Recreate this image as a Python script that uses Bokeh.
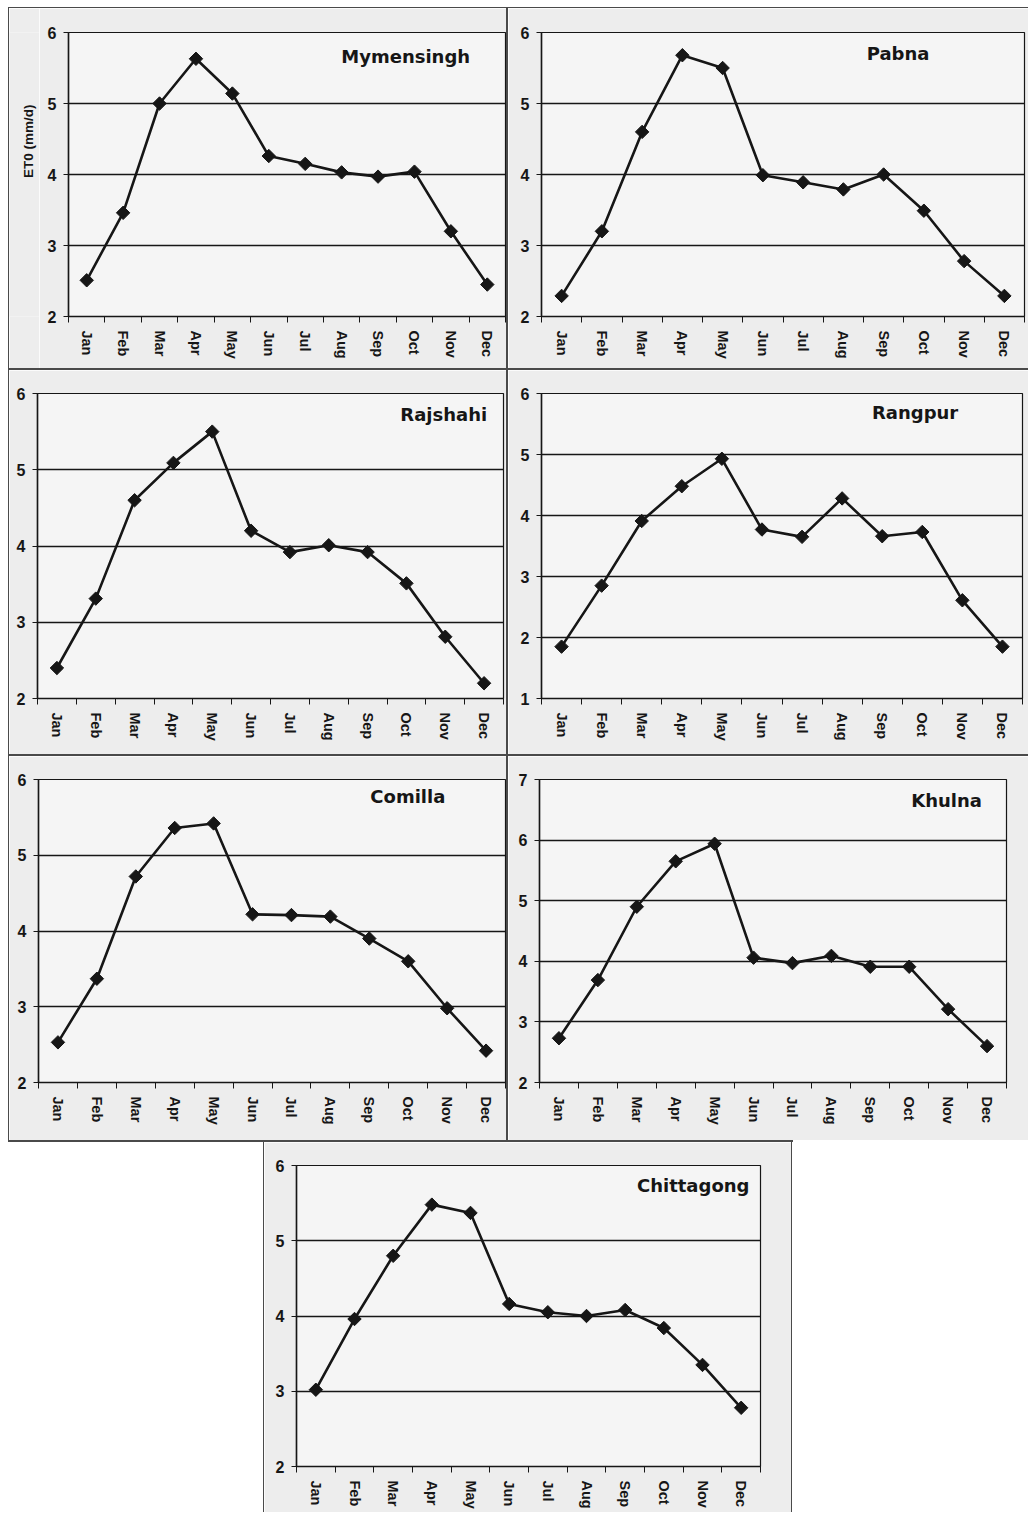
import math
from bokeh.plotting import figure
from bokeh.layouts import column, row
from bokeh.models import FixedTicker, Range1d, Label, Spacer
from bokeh.core.properties import value
from bokeh.embed import file_html
from bokeh.resources import INLINE

months = ["Jan", "Feb", "Mar", "Apr", "May", "Jun", "Jul", "Aug", "Sep", "Oct", "Nov", "Dec"]
month_idx = list(range(1, 13))

mymensingh = [2.51, 3.46, 5.00, 5.63, 5.14, 4.26, 4.15, 4.03, 3.97, 4.04, 3.20, 2.45]
pabna = [2.29, 3.20, 4.60, 5.68, 5.50, 3.99, 3.89, 3.79, 4.00, 3.49, 2.78, 2.29]
rajshahi = [2.40, 3.31, 4.60, 5.09, 5.50, 4.20, 3.92, 4.01, 3.92, 3.51, 2.81, 2.20]
rangpur = [1.85, 2.85, 3.91, 4.48, 4.93, 3.77, 3.65, 4.28, 3.66, 3.73, 2.61, 1.85]
comilla = [2.53, 3.37, 4.72, 5.36, 5.42, 4.22, 4.21, 4.19, 3.90, 3.60, 2.98, 2.42]
khulna = [2.73, 3.69, 4.90, 5.65, 5.94, 4.06, 3.97, 4.09, 3.91, 3.91, 3.21, 2.60]
chittagong = [3.02, 3.96, 4.80, 5.48, 5.37, 4.16, 4.05, 4.00, 4.08, 3.84, 3.35, 2.78]

y_axis_title = "ET0 (mm/d)"

FONT = "Liberation Sans"
TITLE_FONT = "DejaVu Sans"
INK = "#161616"
LINE = "#4a4a4a"
PAPER = "#ededed"


def panel(name, vals, ymin, ymax, w, h, bl, br, bt, bb, lx, ly):
    p = figure(width=w, height=h, output_backend="svg", toolbar_location=None,
               x_range=Range1d(0.5, 12.5), y_range=Range1d(ymin, ymax),
               min_border_left=bl, min_border_right=br,
               min_border_top=bt, min_border_bottom=bb)
    p.border_fill_color = PAPER
    p.background_fill_color = "#f5f5f5"
    p.outline_line_color = INK
    p.outline_line_width = 1.2

    yt = list(range(ymin, ymax + 1))
    p.yaxis.ticker = FixedTicker(ticks=yt)
    p.ygrid.ticker = FixedTicker(ticks=yt)
    p.ygrid.grid_line_color = INK
    p.ygrid.grid_line_width = 1.6
    p.xgrid.visible = False

    p.xaxis.ticker = FixedTicker(ticks=month_idx,
                                 minor_ticks=[i + 0.5 for i in range(0, 13)])
    p.xaxis.major_label_overrides = {i: m for i, m in zip(month_idx, months)}
    p.xaxis.major_label_orientation = "vertical"
    p.xaxis.major_tick_out = 0
    p.xaxis.major_tick_in = 0
    p.xaxis.minor_tick_out = 6
    p.xaxis.minor_tick_in = 0
    p.xaxis.minor_tick_line_color = INK
    p.xaxis.major_label_standoff = 8

    p.yaxis.major_tick_out = 5
    p.yaxis.major_tick_in = 0
    p.yaxis.minor_tick_out = 0
    p.yaxis.minor_tick_in = 0
    p.yaxis.major_label_standoff = 7

    for ax in (p.xaxis, p.yaxis):
        ax.axis_line_color = INK
        ax.axis_line_width = 1.5
        ax.major_tick_line_color = INK
        ax.major_label_text_font = FONT
        ax.major_label_text_font_style = "bold"
        ax.major_label_text_color = INK
    p.xaxis.major_label_text_font_size = "14.5px"
    p.yaxis.major_label_text_font_size = "16px"

    p.line(month_idx, vals, line_color=INK, line_width=2.6)
    p.scatter(month_idx, vals, marker="square", angle=math.pi / 4, size=9.5,
              fill_color=INK, line_color=INK)

    p.add_layout(Label(x=lx, y=ly, text=name, text_font=TITLE_FONT,
                       text_font_style="bold", text_font_size="18px",
                       text_color=INK, text_align="center",
                       text_baseline="middle"))
    return p


def axis_title_strip(w, h):
    # narrow strip holding the vertical y-axis title of the first panel
    s = figure(width=w, height=h, output_backend="svg", toolbar_location=None,
               x_range=Range1d(0, w), y_range=Range1d(0, h),
               x_axis_type=None, y_axis_type=None,
               min_border=0, min_border_left=0, min_border_right=0,
               min_border_top=0, min_border_bottom=0)
    s.border_fill_color = PAPER
    s.background_fill_color = PAPER
    s.outline_line_color = None
    s.grid.visible = False
    s.text(x=[19], y=[222], text=[y_axis_title], angle=math.pi / 2,
           text_font=value(FONT), text_font_style="bold",
           text_font_size="13.5px", text_color=INK,
           text_align="center", text_baseline="middle")
    return s


def vline(h, w=2):
    return Spacer(width=w, height=h, styles={"background-color": LINE})


def hline(w, h=2):
    return Spacer(width=w, height=h, styles={"background-color": LINE})


strip = axis_title_strip(30, 360)
p1 = panel("Mymensingh", mymensingh, 2, 6, 467, 360, 29, 1, 24, 50, 9.76, 5.66)
p2 = panel("Pabna", pabna, 2, 6, 520, 360, 33, 4, 22, 52, 9.36, 5.70)
p3 = panel("Rajshahi", rajshahi, 2, 6, 497, 384, 28, 3, 23, 54, 10.96, 5.73)
p4 = panel("Rangpur", rangpur, 1, 6, 520, 384, 33, 6, 23, 56, 9.82, 5.69)
p5 = panel("Comilla", comilla, 2, 6, 497, 384, 29, 1, 23, 56, 9.99, 5.77)
p6 = panel("Khulna", khulna, 2, 7, 520, 384, 31, 22, 23, 58, 10.96, 6.66)
p7 = panel("Chittagong", chittagong, 2, 6, 527, 370, 32, 31, 23, 46, 10.76, 5.73)

r1 = row(vline(360, 1), strip, p1, vline(360), p2)
r2 = row(vline(384, 1), p3, vline(384), p4)
r3 = row(vline(384, 1), p5, vline(384), p6)
r4 = row(Spacer(width=255, height=370), vline(370, 1), p7, vline(370, 1))

grid = column(hline(1020, 1), r1, hline(1020), r2, hline(1020), r3, hline(785), r4)
layout = column(Spacer(width=1028, height=7), row(Spacer(width=8, height=1505), grid))

open("out.html", "w").write(file_html(layout, INLINE))
